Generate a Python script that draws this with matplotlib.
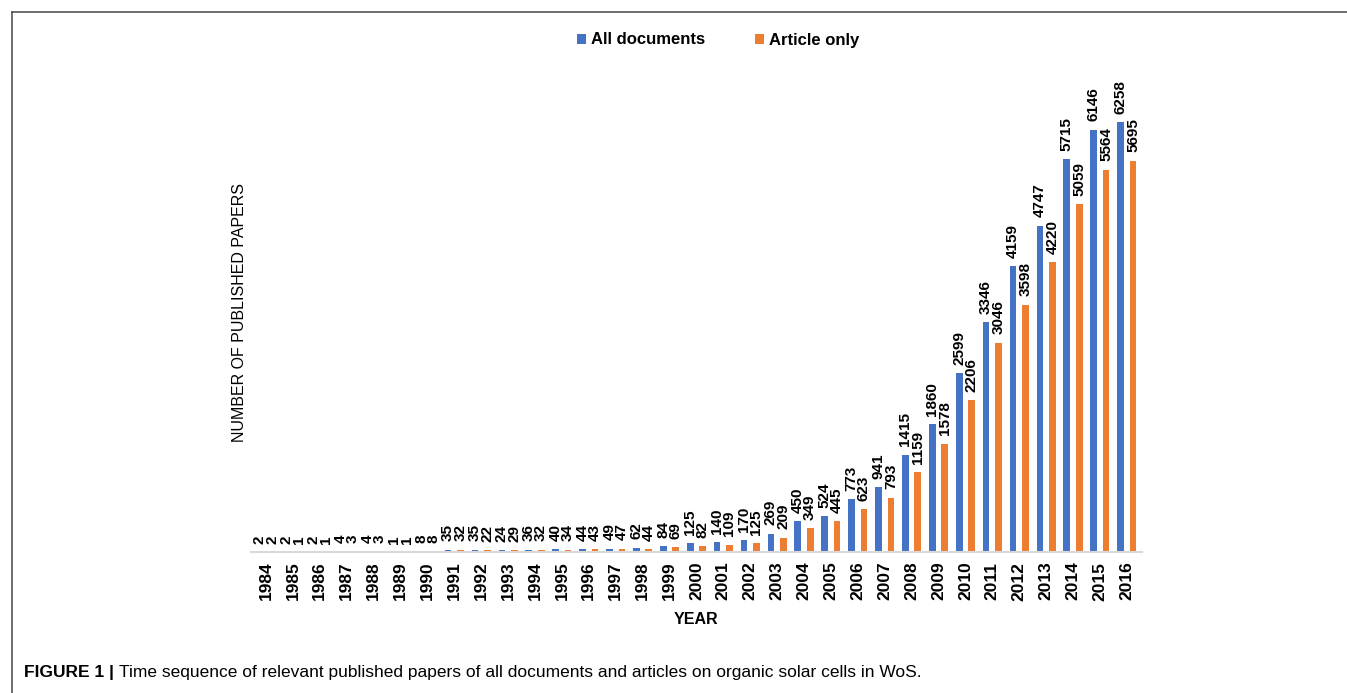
import matplotlib.pyplot as plt
import numpy as np
from matplotlib.lines import Line2D

# 연도
years = list(range(1984, 2017))
# 전체 문서 수
all_docs = [2, 2, 2, 4, 4, 1, 8, 35, 35, 24, 36, 40, 44, 49, 62, 84, 125, 140, 170,
            269, 450, 524, 773, 941, 1415, 1860, 2599, 3346, 4159, 4747, 5715, 6146, 6258]
# 논문만
articles = [2, 1, 1, 3, 3, 1, 8, 32, 22, 29, 32, 34, 43, 47, 44, 69, 82, 109, 125,
            209, 349, 445, 623, 793, 1159, 1578, 2206, 3046, 3598, 4220, 5059, 5564, 5695]

blue = '#4472C4'
orange = '#ED7D31'

plt.rcParams['font.family'] = ['Liberation Sans', 'DejaVu Sans']

fig = plt.figure(figsize=(13.47, 6.93), dpi=100)
W, H = 1347, 693
n = len(years)
step = 26.9
left_px = 266 - 0.55 * step
right_px = 266 + (n - 1 + 0.55) * step
ax = fig.add_axes([left_px / W, 1 - 552 / H, (right_px - left_px) / W, (552 - 71) / H])

x = np.arange(n)
off = 0.23
w = 0.25
ax.bar(x - off, all_docs, w, color=blue, label='All documents')
ax.bar(x + off, articles, w, color=orange, label='Article only')

for xi, a, b in zip(x, all_docs, articles):
    ax.annotate(str(a), (xi - off, a), xytext=(0, 6), textcoords='offset points',
                rotation=90, ha='center', va='bottom', fontsize=11, fontweight='bold')
    ax.annotate(str(b), (xi + off, b), xytext=(0, 6), textcoords='offset points',
                rotation=90, ha='center', va='bottom', fontsize=11, fontweight='bold')

ax.set_xlim(-0.55, n - 0.45)
ax.set_ylim(0, 7000)
ax.set_xticks(x)
ax.set_xticklabels([str(y) for y in years], rotation=90, fontsize=12.5, fontweight='bold')
ax.tick_params(axis='x', length=0, pad=7)
ax.set_yticks([])
for s in ['top', 'right', 'left']:
    ax.spines[s].set_visible(False)
ax.spines['bottom'].set_color('#d9d9d9')
ax.spines['bottom'].set_linewidth(1.5)

ax.set_xlabel('YEAR', fontsize=11.5, fontweight='bold', labelpad=8)
fig.text(240 / W, 1 - 312 / H, 'NUMBER OF PUBLISHED PAPERS', rotation=90,
         ha='center', va='center', fontsize=11.5)

fig.legend(loc='center', bbox_to_anchor=(718 / W, 1 - 40 / H), ncol=2, frameon=False,
           handlelength=0.55, handleheight=0.55, handletextpad=0.3, columnspacing=3,
           prop={'size': 12, 'weight': 'bold'})

# 테두리
fig.add_artist(Line2D([12 / W, 1], [1 - 12 / H, 1 - 12 / H], color='#555555', lw=1.2))
fig.add_artist(Line2D([12 / W, 12 / W], [0, 1 - 12 / H], color='#555555', lw=1.2))

# 캡션
t = fig.text(24 / W, 1 - 672 / H, 'FIGURE 1 |', fontsize=12.5, fontweight='bold',
             ha='left', va='center')
fig.canvas.draw()
bb = t.get_window_extent()
fig.text((bb.x1 + 5) / W, 1 - 672 / H,
         'Time sequence of relevant published papers of all documents and articles on organic solar cells in WoS.',
         fontsize=12.5, ha='left', va='center')

fig.savefig('out.png', dpi=100)
